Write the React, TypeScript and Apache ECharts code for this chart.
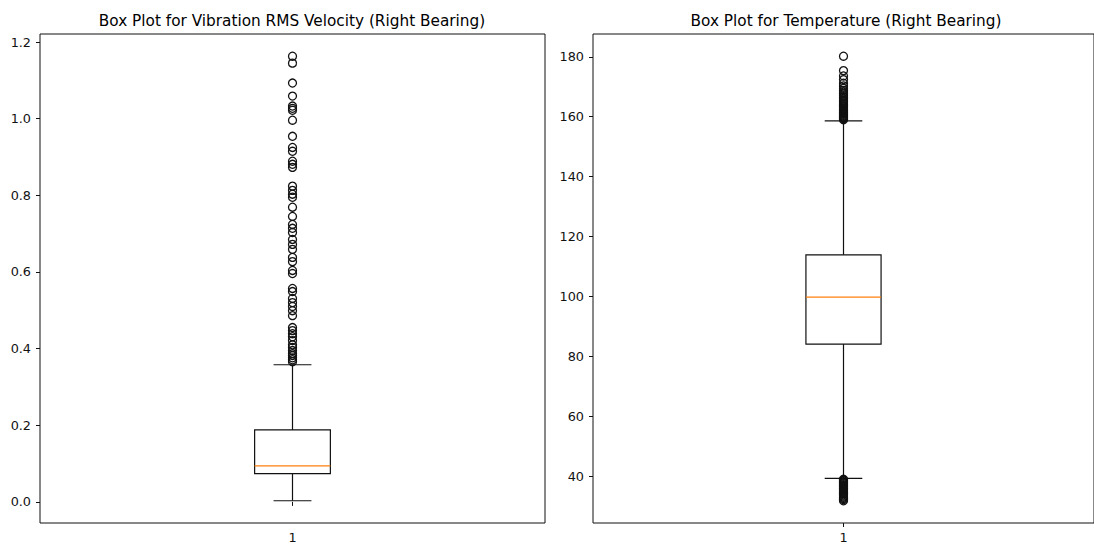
import React, { useEffect, useRef } from "react";
import * as echarts from "echarts";

// Titles
const titles = [
  "Box Plot for Vibration RMS Velocity (Right Bearing)",
  "Box Plot for Temperature (Right Bearing)",
];
const categoryLabel = [1];

// [lower whisker, Q1, median, Q3, upper whisker]
const vibrationStats = [0.003, 0.074, 0.094, 0.188, 0.358];
const temperatureStats = [39.3, 84.1, 99.8, 113.9, 158.6];

// Outliers
const vibrationOutliers = [
  1.163, 1.145, 1.093, 1.059, 1.033, 1.027, 1.022, 0.996, 0.954, 0.925, 0.915,
  0.889, 0.881, 0.873, 0.824, 0.813, 0.803, 0.795, 0.769, 0.745, 0.724, 0.714,
  0.703, 0.685, 0.672, 0.659, 0.638, 0.627, 0.604, 0.596, 0.557, 0.549, 0.531,
  0.52, 0.51, 0.499, 0.486, 0.455, 0.447, 0.439, 0.431, 0.421, 0.41, 0.403,
  0.395, 0.387, 0.382, 0.376, 0.371, 0.366,
];
const temperatureOutliers = [
  159.0, 159.3, 159.6, 159.9, 160.2, 160.5, 160.8, 161.1, 161.4, 161.8, 162.1,
  162.5, 162.9, 163.3, 163.7, 164.1, 164.6, 165.0, 165.5, 166.0, 166.5, 167.0,
  167.6, 168.2, 168.8, 169.5, 170.3, 171.2, 172.4, 173.6, 175.4, 180.2,
  39.0, 38.7, 38.4, 38.1, 37.8, 37.5, 37.2, 36.9, 36.6, 36.3, 36.0, 35.7, 35.4,
  35.0, 34.6, 34.2, 33.8, 33.4, 33.0, 32.6, 32.2, 31.8,
];

// Tick labels
const vibrationTicks = [0.0, 0.2, 0.4, 0.6, 0.8, 1.0, 1.2];
const temperatureTicks = [40, 60, 80, 100, 120, 140, 160, 180];

const FONT = "DejaVu Sans";

function paddedRange(stats: number[], outliers: number[]) {
  const all = stats.concat(outliers);
  const mn = Math.min(...all);
  const mx = Math.max(...all);
  const pad = (mx - mn) * 0.05;
  return [mn - pad, mx + pad];
}

function renderBox(params: any, api: any) {
  const x = api.value(0);
  const lo = api.coord([x, api.value(1)]);
  const q1 = api.coord([x, api.value(2)]);
  const med = api.coord([x, api.value(3)]);
  const q3 = api.coord([x, api.value(4)]);
  const hi = api.coord([x, api.value(5)]);
  const w = api.size([0.15, 0])[0];
  const cx = lo[0];
  const black = { stroke: "#111", lineWidth: 1.2, fill: "none" };
  return {
    type: "group",
    children: [
      { type: "line", shape: { x1: cx, y1: q1[1], x2: cx, y2: lo[1] }, style: black },
      { type: "line", shape: { x1: cx, y1: q3[1], x2: cx, y2: hi[1] }, style: black },
      { type: "line", shape: { x1: cx - w / 4, y1: lo[1], x2: cx + w / 4, y2: lo[1] }, style: black },
      { type: "line", shape: { x1: cx - w / 4, y1: hi[1], x2: cx + w / 4, y2: hi[1] }, style: black },
      {
        type: "rect",
        shape: { x: cx - w / 2, y: q3[1], width: w, height: q1[1] - q3[1] },
        style: black,
      },
      {
        type: "line",
        shape: { x1: cx - w / 2, y1: med[1], x2: cx + w / 2, y2: med[1] },
        style: { stroke: "#ff7f0e", lineWidth: 1.2 },
      },
    ],
  };
}

export default function App() {
  const ref = useRef<HTMLDivElement>(null);

  useEffect(() => {
    if (!ref.current) return;
    const chart = echarts.init(ref.current, null, { renderer: "svg" });
    const vr = paddedRange(vibrationStats, vibrationOutliers);
    const tr = paddedRange(temperatureStats, temperatureOutliers);

    const grids = [
      { left: 40, top: 34, right: 549, bottom: 22 },
      { left: 593, top: 34, right: -6, bottom: 22 },
    ];

    const xAxis = [0, 1].map((i) => ({
      type: "value",
      gridIndex: i,
      min: 0.5,
      max: 1.5,
      axisLine: { show: false },
      splitLine: { show: false },
      axisTick: {
        show: true,
        length: 4,
        customValues: categoryLabel,
        lineStyle: { color: "#111", width: 1 },
      },
      axisLabel: {
        customValues: categoryLabel,
        formatter: (v: number) => String(v),
        color: "#111",
        fontFamily: FONT,
        fontSize: 12.8,
        margin: 8,
      },
    }));

    const yAxis = [
      {
        type: "value",
        gridIndex: 0,
        min: vr[0],
        max: vr[1],
        axisLine: { show: false },
        splitLine: { show: false },
        axisTick: {
          show: true,
          length: 4,
          customValues: vibrationTicks,
          lineStyle: { color: "#111", width: 1 },
        },
        axisLabel: {
          customValues: vibrationTicks,
          formatter: (v: number) => v.toFixed(1),
          color: "#111",
          fontFamily: FONT,
          fontSize: 12.8,
          margin: 9,
        },
      },
      {
        type: "value",
        gridIndex: 1,
        min: tr[0],
        max: tr[1],
        axisLine: { show: false },
        splitLine: { show: false },
        axisTick: {
          show: true,
          length: 4,
          customValues: temperatureTicks,
          lineStyle: { color: "#111", width: 1 },
        },
        axisLabel: {
          customValues: temperatureTicks,
          formatter: (v: number) => String(v),
          color: "#111",
          fontFamily: FONT,
          fontSize: 12.8,
          margin: 9,
        },
      },
    ];

    const scatterStyle = { color: "none", borderColor: "#111", borderWidth: 1.3, opacity: 1 };

    const option: any = {
      animation: false,
      backgroundColor: "#fff",
      title: [
        {
          text: titles[0],
          left: 287,
          top: 8,
          textAlign: "center",
          textStyle: { fontFamily: FONT, fontSize: 15.3, fontWeight: "normal", color: "#000" },
        },
        {
          text: titles[1],
          left: 841,
          top: 8,
          textAlign: "center",
          textStyle: { fontFamily: FONT, fontSize: 15.3, fontWeight: "normal", color: "#000" },
        },
      ],
      grid: grids.map((g) => ({ ...g, show: true, borderColor: "#111", borderWidth: 1, backgroundColor: "transparent" })),
      xAxis,
      yAxis,
      series: [
        {
          type: "custom",
          xAxisIndex: 0,
          yAxisIndex: 0,
          renderItem: renderBox,
          encode: { x: 0, y: [1, 2, 3, 4, 5] },
          data: [[categoryLabel[0], ...vibrationStats]],
          silent: true,
        },
        {
          type: "scatter",
          xAxisIndex: 0,
          yAxisIndex: 0,
          symbol: "circle",
          symbolSize: 8,
          itemStyle: scatterStyle,
          data: vibrationOutliers.map((v) => [categoryLabel[0], v]),
          silent: true,
        },
        {
          type: "custom",
          xAxisIndex: 1,
          yAxisIndex: 1,
          renderItem: renderBox,
          encode: { x: 0, y: [1, 2, 3, 4, 5] },
          data: [[categoryLabel[0], ...temperatureStats]],
          silent: true,
        },
        {
          type: "scatter",
          xAxisIndex: 1,
          yAxisIndex: 1,
          symbol: "circle",
          symbolSize: 8,
          itemStyle: scatterStyle,
          data: temperatureOutliers.map((v) => [categoryLabel[0], v]),
          silent: true,
        },
      ],
    };
    chart.setOption(option);
    return () => chart.dispose();
  }, []);

  return (
    <div
      ref={ref}
      style={{ position: "fixed", left: 0, top: 0, width: 1094, height: 545 }}
    />
  );
}
